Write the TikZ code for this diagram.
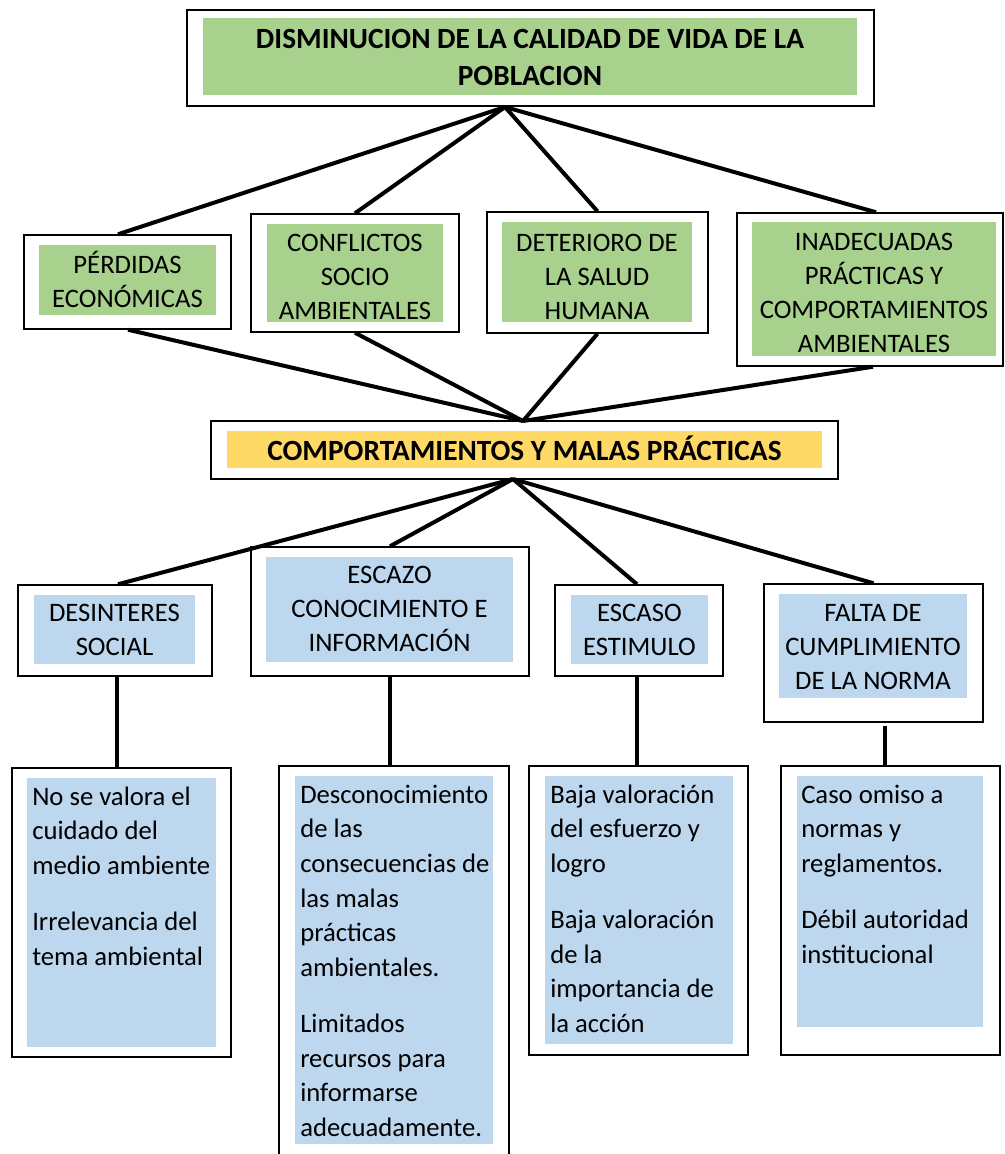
\documentclass[tikz,border=0pt]{standalone}
\usepackage{fontspec}
\setmainfont{Carlito}
\usetikzlibrary{fit,calc}
\definecolor{gfill}{HTML}{A9D18E}
\definecolor{yfill}{HTML}{FFD966}
\definecolor{bfill}{HTML}{BDD7EE}
\tikzset{
  obox/.style={draw=black, line width=1.1pt, inner sep=0pt, fill=white},
  gin/.style={fill=gfill, draw=none, inner sep=0pt},
  yin/.style={fill=yfill, draw=none, inner sep=0pt},
  bin/.style={fill=bfill, draw=none, inner sep=0pt},
  conn/.style={draw=black, line width=3pt},
  ctext/.style={anchor=north, inner sep=0pt, align=center, font=\fontsize{20}{25.5}\selectfont},
  ltext/.style={anchor=north west, inner sep=0pt, align=left, font=\fontsize{20}{26}\selectfont},
  htext/.style={anchor=north, inner sep=0pt, align=center, font=\bfseries\fontsize{22}{28}\selectfont},
}
\begin{document}
\begin{tikzpicture}[x=0.75pt,y=-0.75pt]
\useasboundingbox (0,0) rectangle (1005,1154);
\clip (0,0) rectangle (1005,1154);
\fill[white] (0,0) rectangle (1005,1154);

% ---- top
\node[obox, fit={(187,10) (874,106)}] (top) {};
\node[gin, fit={(203,18) (857,95)}] (topin) {};
\node[htext] (topt) at (530,21.3) {\rule{0pt}{20pt}DISMINUCION DE LA CALIDAD DE VIDA DE LA\\POBLACION};

% ---- level 2
\node[obox, fit={(24,235) (231,329)}] (pe) {};
\node[gin, fit={(39,245) (216,315)}] (pein) {};
\node[ctext] (pet) at (127.5,249.5) {\rule{0pt}{18pt}PÉRDIDAS\\ECONÓMICAS};

\node[obox, fit={(251,214) (459,332)}] (cs) {};
\node[gin, fit={(267,224) (443,322)}] (csin) {};
\node[ctext] (cst) at (355,227.5) {\rule{0pt}{18pt}CONFLICTOS\\SOCIO\\AMBIENTALES};

\node[obox, fit={(487,212) (708,333)}] (de) {};
\node[gin, fit={(502,222) (692,322)}] (dein) {};
\node[ctext] (det) at (597,227.5) {\rule{0pt}{18pt}DETERIORO DE\\LA SALUD\\HUMANA};

\node[obox, fit={(737,213) (1003,366)}] (ina) {};
\node[gin, fit={(752,222) (996,356)}] (inain) {};
\node[ctext] (inat) at (874,226.5) {\rule{0pt}{18pt}INADECUADAS\\PRÁCTICAS Y\\COMPORTAMIENTOS\\AMBIENTALES};

% ---- center
\node[obox, fit={(211,421) (838,479)}] (mid) {};
\node[yin, fit={(227,431) (822,468)}] (midin) {};
\node[htext] (midt) at (524.5,433.8) {\rule{0pt}{20pt}COMPORTAMIENTOS Y MALAS PRÁCTICAS};

% ---- level 3
\node[obox, fit={(18,585) (212,676)}] (di) {};
\node[bin, fit={(34,595) (195,664)}] (diin) {};
\node[ctext] (dit) at (114.5,597.5) {\rule{0pt}{18pt}DESINTERES\\SOCIAL};

\node[obox, fit={(251,547) (529,676)}] (es) {};
\node[bin, fit={(266,557) (513,662)}] (esin) {};
\node[ctext] (est) at (389.5,559.5) {\rule{0pt}{18pt}ESCAZO\\CONOCIMIENTO E\\INFORMACIÓN};

\node[obox, fit={(555,585) (723,676)}] (ec) {};
\node[bin, fit={(571,595) (708,664)}] (ecin) {};
\node[ctext] (ect) at (639.5,597.5) {\rule{0pt}{18pt}ESCASO\\ESTIMULO};

\node[obox, fit={(764,584) (983,722)}] (fa) {};
\node[bin, fit={(779,594) (967,698)}] (fain) {};
\node[ctext] (fat) at (873,597.5) {\rule{0pt}{18pt}FALTA DE\\CUMPLIMIENTO\\DE LA NORMA};

% ---- level 4
\node[obox, fit={(12,768) (231,1057)}] (b1) {};
\node[bin, fit={(27,778) (216,1047)}] (b1in) {};
\node[ltext] (b1t) at (32,781) {\rule{0pt}{18pt}No se valora el\\cuidado del\\medio ambiente\\[16pt]Irrelevancia del\\tema ambiental};

\node[obox, fit={(279,766) (509,1180)}] (b2) {};
\node[bin, fit={(295,776) (493,1144)}] (b2in) {};
\node[ltext] (b2t) at (300,779) {\rule{0pt}{18pt}Desconocimiento\\de las\\consecuencias de\\las malas\\prácticas\\ambientales.\\[16pt]Limitados\\recursos para\\informarse\\adecuadamente.};

\node[obox, fit={(529,766) (748,1055)}] (b3) {};
\node[bin, fit={(545,776) (733,1044)}] (b3in) {};
\node[ltext] (b3t) at (550,779) {\rule{0pt}{18pt}Baja valoración\\del esfuerzo y\\logro\\[16pt]Baja valoración\\de la\\importancia de\\la acción};

\node[obox, fit={(781,766) (1000,1055)}] (b4) {};
\node[bin, fit={(797,776) (983,1027)}] (b4in) {};
\node[ltext] (b4t) at (801,779) {\rule{0pt}{18pt}Caso omiso a\\normas y\\reglamentos.\\[16pt]Débil autoridad\\institucional};

% ---- connectors
\coordinate (a1) at (505,107);
\coordinate (a2) at (523,421);
\coordinate (a3) at (513,479);

\draw[conn] (a1) -- ($(pe.north)+(-9.5,0)$);
\draw[conn] (a1) -- (cs.north);
\draw[conn] (a1) -- (de.north);
\draw[conn] (a1) -- ($(ina.north)+(6,0)$);

\draw[conn] ($(pe.south)+(0.5,0)$) -- (a2);
\draw[conn] (cs.south) -- (a2);
\draw[conn] (de.south) -- (a2);
\draw[conn] ($(ina.south)+(3,0)$) -- (a2);

\draw[conn] (a3) -- ($(di.north)+(3,0)$);
\draw[conn] (a3) -- (es.north);
\draw[conn] (a3) -- ($(ec.north)+(-2,0)$);
\draw[conn] (a3) -- (fa.north);

\draw[conn] ($(di.south)+(1.5,0)$) coordinate (v1) -- (v1 |- b1.north);
\draw[conn] (es.south) -- (es.south |- b2.north);
\draw[conn] ($(ec.south)+(-2.5,0)$) coordinate (v3) -- (v3 |- b3.north);
\draw[conn] ($(fa.south)+(11.5,3)$) coordinate (v4) -- (v4 |- b4.north);
\end{tikzpicture}
\end{document}
